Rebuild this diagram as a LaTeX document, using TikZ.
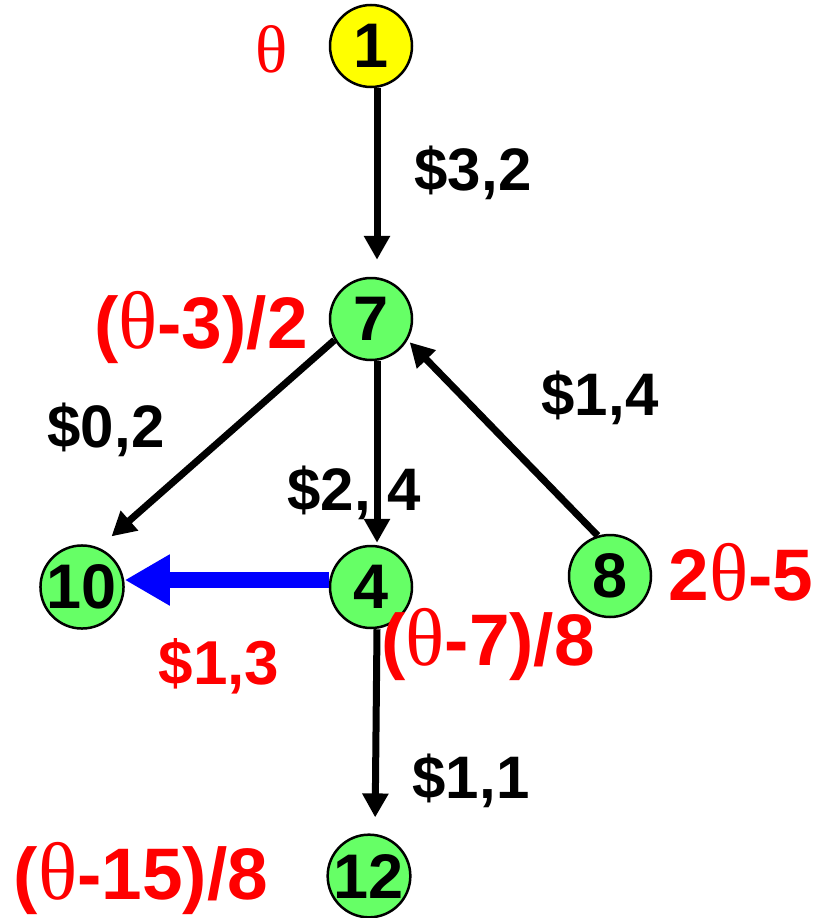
\documentclass[tikz,border=0pt]{standalone}
\usepackage{fontspec}
\setmainfont{Liberation Sans}
\newfontfamily\thetafont[Scale=1.12]{Liberation Serif}
\usetikzlibrary{arrows.meta}
\definecolor{nodegreen}{HTML}{66FF66}
\definecolor{nodeyellow}{HTML}{FFFF00}
\definecolor{boundred}{HTML}{FF0000}
\definecolor{pathblue}{HTML}{0000FF}
\newcommand{\thet}{{\thetafont\mdseries θ}}

\begin{document}
\begin{tikzpicture}[x=1pt, y=-1pt,
  vertex/.style={circle, draw=black, line width=2.5pt, fill=nodegreen,
    minimum size=82pt, inner sep=0pt,
    font=\fontsize{63}{63}\selectfont\bfseries},
  rootvertex/.style={vertex, fill=nodeyellow},
  cost/.style={anchor=base, inner sep=0pt,
    font=\fontsize{60}{60}\selectfont\bfseries},
  bound/.style={anchor=base, inner sep=0pt, text=boundred,
    font=\fontsize{73}{73}\selectfont\bfseries},
  edge/.style={line width=7pt, -{Triangle[width=25pt,length=24pt]}},
  chosen/.style={line width=16pt, pathblue, -{Triangle[width=48pt,length=45pt]}}]

  \useasboundingbox (0,0) rectangle (822,918);

  % tree nodes
  \node[rootvertex] (n1)  at (371,46)  {1};
  \node[vertex]     (n7)  at (371,319) {7};
  \node[vertex]     (n10) at (82,587)  {10};
  \node[vertex]     (n4)  at (371,587) {4};
  \node[vertex]     (n8)  at (610,576) {8};
  \node[vertex]     (n12) at (369,876) {12};

  % branches
  \draw[edge, shorten >=17pt] ([xshift=6pt]n1.south) -- ([xshift=6pt]n7.north);
  \draw[edge, shorten >=2pt]  ([xshift=6pt]n7.south) -- ([xshift=6pt]n4.north);
  \draw[edge, shorten >=16pt] ([xshift=6pt]n4.south) -- ([xshift=6pt]n12.north);
  \draw[edge, shorten >=17pt] (n7.210) -- (n10.67);
  \draw[edge, shorten >=3pt]  (n8.107) -- (n7.-30);
  \draw[chosen] ([yshift=7pt]n4.west) -- ([yshift=7pt]n10.east);

  % branch costs
  \node[cost] (c17)  at (473,190) {\$3,2};
  \node[cost] (c710) at (106,447) {\$0,2};
  \node[cost] (c74)  at (354,510) {\$2, 4};
  \node[cost] (c87)  at (600,415) {\$1,4};
  \node[cost] (c412) at (471,798) {\$1,1};
  \node[cost, text=boundred, font=\fontsize{62}{62}\selectfont\bfseries]
    (c410) at (219,684) {\$1,3};

  % node bounds
  \node[anchor=base, inner sep=0pt, text=boundred,
    font=\fontsize{60}{60}\selectfont] (b1) at (272,72) {\thet};
  \node[bound] (b7)  at (201,348) {(\thet-3)/2};
  \node[bound] (b4)  at (488,665) {(\thet-7)/8};
  \node[bound] (b8)  at (741,600) {2\thet-5};
  \node[bound] (b12) at (141,899) {(\thet-15)/8};
\end{tikzpicture}
\end{document}
